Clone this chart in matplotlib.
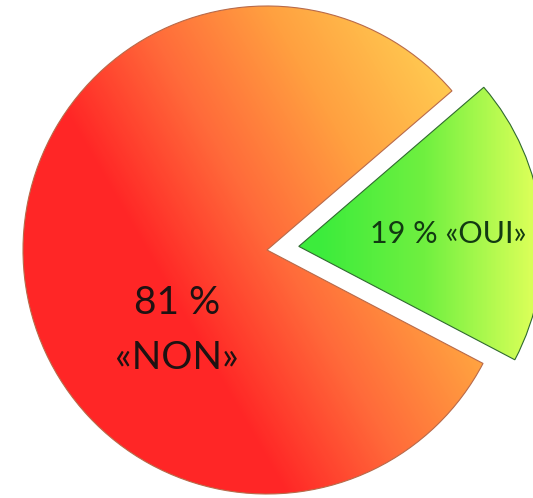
import numpy as np
import matplotlib
matplotlib.use("Agg")
import matplotlib.pyplot as plt
from matplotlib.colors import LinearSegmentedColormap

# Data
categories = ["NON", "OUI"]
values = [81, 19]
labels = ["81 %\n«NON»", "19 % «OUI»"]

W, H = 533, 498
fig = plt.figure(figsize=(W / 100, H / 100), dpi=100)
ax = fig.add_axes([0, 0, 1, 1])

cx, cy, R = 267, H - 250, 244
wedges, _ = ax.pie(values, radius=R, center=(cx, cy), startangle=40.7,
                   explode=[0, 32], counterclock=True,
                   wedgeprops=dict(linewidth=0.8))
ax.set_xlim(0, W)
ax.set_ylim(0, H)
ax.set_aspect("equal")
ax.axis("off")

# gradient fields (in image pixel coordinates, y down)
xx, yy = np.meshgrid(np.arange(W) + 0.5, np.arange(H) + 0.5)
th = np.deg2rad(30)
proj = xx * np.cos(th) - yy * np.sin(th)
t_red = np.clip(proj / 380.0, 0, 1)
cmap_red = LinearSegmentedColormap.from_list(
    "red", [(0, "#ff2626"), (0.3, "#ff6a3a"), (0.6, "#ffa040"),
            (0.9, "#ffc850"), (1, "#ffd868")])
t_green = np.clip((xx - 320) / 210.0, 0, 1)
cmap_green = LinearSegmentedColormap.from_list(
    "green", [(0, "#3cec3c"), (0.5, "#70f040"), (1, "#d8ff58")])

fills = [(t_red, cmap_red, "#b86a4a"), (t_green, cmap_green, "#2f6a2f")]
for w, (t, cm, ec) in zip(wedges, fills):
    im = ax.imshow(t, cmap=cm, vmin=0, vmax=1, extent=(0, W, 0, H),
                   origin="upper", interpolation="bilinear", zorder=1)
    im.set_clip_path(w)
    w.set_facecolor("none")
    w.set_edgecolor(ec)
    w.set_zorder(2)

font = "Lato"
ax.text(177, H - 303, labels[0].split("\n")[0], ha="center", va="center",
        fontsize=28, color="#1e1212", family=font, zorder=3)
ax.text(177, H - 358, labels[0].split("\n")[1], ha="center", va="center",
        fontsize=28, color="#1e1212", family=font, zorder=3)
ax.text(370, H - 234, labels[1], ha="left", va="center",
        fontsize=22, color="#123a12", family=font, zorder=3)

fig.savefig("out.png", dpi=100)
